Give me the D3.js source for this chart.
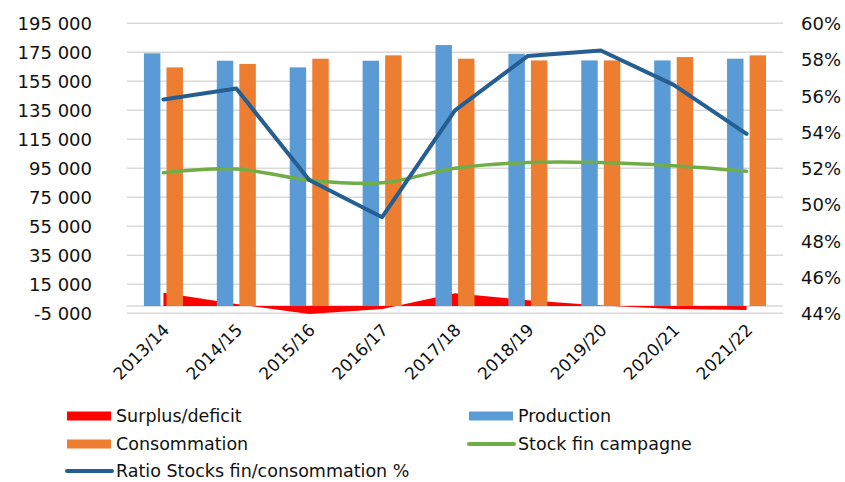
<!DOCTYPE html>
<html><head><meta charset="utf-8">
<script src="https://cdn.jsdelivr.net/npm/d3@7"></script>
<style>
html,body{margin:0;padding:0;background:#fff;}
text{font-family:"DejaVu Sans",sans-serif;fill:#111;}
</style></head>
<body><svg id="c" width="845" height="482"></svg>
<script>
const categories = ["2013/14","2014/15","2015/16","2016/17","2017/18","2018/19","2019/20","2020/21","2021/22"];
const surplus = [9200, 1400, -5500, -2000, 8900, 4000, 300, -2000, -2800];
const production = [174300, 169200, 164600, 169200, 180000, 174000, 169400, 169400, 170600];
const consommation = [164600, 167000, 170600, 172900, 170600, 169400, 169400, 171700, 172900];
const stockFin = [91900, 94500, 86900, 85000, 95000, 99000, 99000, 96800, 93000];
const ratio = [55.8, 56.4, 51.35, 49.3, 55.2, 58.2, 58.5, 56.6, 53.9];
const leftTicks = [-5000, 15000, 35000, 55000, 75000, 95000, 115000, 135000, 155000, 175000, 195000];
const rightTicks = [44, 46, 48, 50, 52, 54, 56, 58, 60];
const legendItems = [
  {name:"Surplus/deficit", type:"rect", color:"#ff0000"},
  {name:"Production", type:"rect", color:"#5b9bd5"},
  {name:"Consommation", type:"rect", color:"#ed7d31"},
  {name:"Stock fin campagne", type:"line", color:"#70ad47"},
  {name:"Ratio Stocks fin/consommation %", type:"line", color:"#255e91"}
];

(function(){
const svg = d3.select("#c");
const pLeft = 127, pRight = 783, pTop = 23.3, pBottom = 313.3;
const x = d3.scaleBand().domain(categories).range([pLeft, pRight]).padding(0);
const yL = d3.scaleLinear().domain([-5000, 195000]).range([pBottom, pTop]);
const yR = d3.scaleLinear().domain([44, 60]).range([pBottom, pTop]);
const cx = c => x(c) + x.bandwidth()/2;
const sub = d3.scaleBand().domain(["p","c"]).range([-19.5, 19.5]).paddingInner(0.27).paddingOuter(0);

const fmt = v => d3.format(",")(v).replace(/,/g, " ").replace("−","-");

// gridlines
svg.append("g").selectAll("line").data(leftTicks).join("line")
  .attr("x1", pLeft).attr("x2", pRight)
  .attr("y1", d => yL(d)).attr("y2", d => yL(d))
  .attr("stroke", "#d9d9d9").attr("stroke-width", 1.5);
svg.append("line").attr("x1", pLeft).attr("x2", pRight)
  .attr("y1", yL(0)).attr("y2", yL(0))
  .attr("stroke", "#d9d9d9").attr("stroke-width", 1.5);

// left axis
const axL = svg.append("g").attr("transform", `translate(92,0)`)
  .call(d3.axisLeft(yL).tickValues(leftTicks).tickFormat(fmt).tickSize(0).tickPadding(0));
axL.select(".domain").remove();
axL.selectAll("text").attr("font-size", 18).attr("dy", "0.35em").style("font-family","DejaVu Sans").attr("fill","#111");

// right axis
const axR = svg.append("g").attr("transform", `translate(801,0)`)
  .call(d3.axisRight(yR).tickValues(rightTicks).tickFormat(d => d + "%").tickSize(0).tickPadding(0));
axR.select(".domain").remove();
axR.selectAll("text").attr("font-size", 18).attr("dy", "0.35em").style("font-family","DejaVu Sans").attr("fill","#111");

// x labels
svg.append("g").selectAll("text").data(categories).join("text")
  .attr("transform", d => `translate(${cx(d)+7},${331}) rotate(-45)`)
  .attr("text-anchor", "end").attr("font-size", 17).text(d => d);

// surplus area
const area = d3.area().x((d,i) => cx(categories[i])).y0(yL(0)).y1(d => yL(d));
svg.append("path").datum(surplus).attr("d", area).attr("fill", "#ff0000");

// bars
const g = svg.append("g");
g.selectAll("rect.p").data(production).join("rect").attr("class","p")
  .attr("x", (d,i) => cx(categories[i]) + sub("p")).attr("width", sub.bandwidth())
  .attr("y", d => yL(d)).attr("height", d => yL(0) - yL(d)).attr("fill", "#5b9bd5");
g.selectAll("rect.c").data(consommation).join("rect").attr("class","c")
  .attr("x", (d,i) => cx(categories[i]) + sub("c")).attr("width", sub.bandwidth())
  .attr("y", d => yL(d)).attr("height", d => yL(0) - yL(d)).attr("fill", "#ed7d31");

// stock line (smoothed)
const lineS = d3.line().x((d,i) => cx(categories[i])).y(d => yL(d)).curve(d3.curveCatmullRom.alpha(0.5));
svg.append("path").datum(stockFin).attr("d", lineS).attr("fill","none")
  .attr("stroke", "#70ad47").attr("stroke-width", 3.5).attr("stroke-linecap","round");

// ratio line
const lineR = d3.line().x((d,i) => cx(categories[i])).y(d => yR(d));
svg.append("path").datum(ratio).attr("d", lineR).attr("fill","none")
  .attr("stroke", "#255e91").attr("stroke-width", 4).attr("stroke-linejoin","round").attr("stroke-linecap","round");

// legend
const pos = [[67,416],[469,416],[67,444],[469,444],[67,471]];
const lg = svg.append("g").selectAll("g").data(legendItems).join("g")
  .attr("transform", (d,i) => `translate(${pos[i][0]},${pos[i][1]})`);
lg.filter(d => d.type==="rect").append("rect").attr("x",0).attr("y",-4.5).attr("width",44).attr("height",9).attr("fill", d => d.color);
lg.filter(d => d.type==="line").append("line").attr("x1",0).attr("x2",45).attr("y1",0).attr("y2",0)
  .attr("stroke", d => d.color).attr("stroke-width",4).attr("stroke-linecap","round");
lg.append("text").attr("x",49).attr("dy","0.33em").attr("font-size",17.5).text(d => d.name);
})();
</script></body></html>
